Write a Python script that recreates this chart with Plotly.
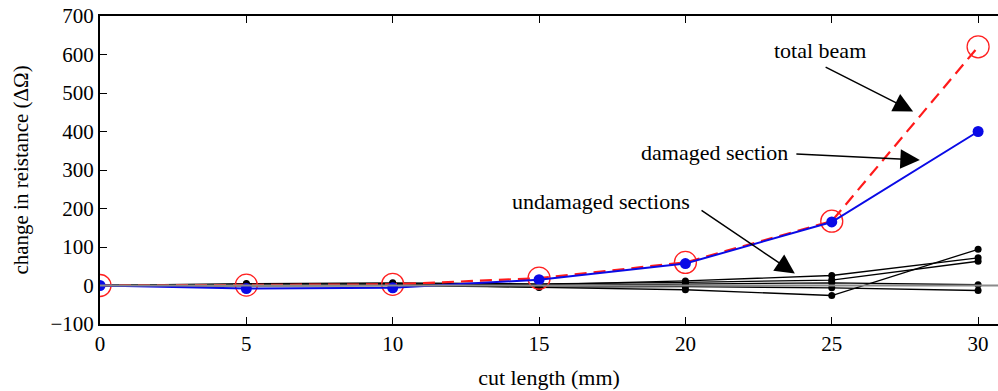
import plotly.graph_objects as go

cut_length = [0, 5, 10, 15, 20, 25, 30]
total_beam = [0, 1, 3, 19, 60, 167, 620]
damaged_section = [0, -8, -6, 15, 57, 165, 400]
undamaged_sections = [
    [0, 3, 5, 2, 12, 26, 72],
    [0, 5, 7, 4, 8, 14, 63],
    [0, 2, 3, -5, -11, -26, 94],
    [0, 1, 2, 0, 3, 7, 2],
    [0, -1, 0, -4, -3, -6, -13],
]
x_ticks = [0, 5, 10, 15, 20, 25, 30]
y_ticks = [-100, 0, 100, 200, 300, 400, 500, 600, 700]
y_tick_text = ["\u2212100", "0", "100", "200", "300", "400", "500", "600", "700"]

FONT = "Liberation Serif, Times New Roman, serif"

fig = go.Figure()

for ys in undamaged_sections:
    fig.add_trace(go.Scatter(
        x=cut_length, y=ys, mode="lines+markers",
        line=dict(color="black", width=1.3),
        marker=dict(color="black", size=7),
        showlegend=False, hoverinfo="skip"))

fig.add_hline(y=0, line=dict(color="#8a8a8a", width=2))

fig.add_trace(go.Scatter(
    x=cut_length, y=total_beam, mode="lines+markers",
    line=dict(color="#ff1a1a", width=2.2, dash="12px,7px"),
    marker=dict(symbol="circle-open", size=22, color="#ff2020", line=dict(width=1.3)),
    showlegend=False))

fig.add_trace(go.Scatter(
    x=cut_length, y=damaged_section, mode="lines+markers",
    line=dict(color="#0a0ae6", width=2),
    marker=dict(color="#0a0ae6", size=11),
    showlegend=False))

labels = [
    ("total beam", 24.6, 611, 24.74, 569, 27.78, 452),
    ("damaged section", 20.98, 345, 23.74, 342, 28.01, 326),
    ("undamaged sections", 17.12, 217, 20.5, 198, 23.74, 31),
]
for text, tx, ty, ax0, ay0, hx, hy in labels:
    fig.add_annotation(x=tx, y=ty, text=text, showarrow=False,
                       font=dict(family=FONT, size=22, color="black"))
    fig.add_annotation(x=hx, y=hy, ax=ax0, ay=ay0, axref="x", ayref="y",
                       text="", showarrow=True, arrowhead=2, arrowsize=2.6,
                       arrowwidth=1.5, arrowcolor="black", standoff=0)

fig.update_layout(
    width=998, height=391,
    margin=dict(l=100, r=0, t=16, b=67),
    plot_bgcolor="white", paper_bgcolor="white",
    font=dict(family=FONT, size=21, color="black"),
)
fig.update_xaxes(
    range=[0, 30.68], tickvals=x_ticks, ticktext=[str(v) for v in x_ticks],
    ticks="inside", ticklen=7, tickwidth=1, tickcolor="black",
    showline=True, linecolor="black", linewidth=2, mirror="ticks",
    showgrid=False, zeroline=False,
    title=dict(text="cut length (mm)", font=dict(size=22), standoff=14),
)
fig.update_yaxes(
    range=[-100, 700], tickvals=y_ticks, ticktext=y_tick_text,
    ticks="inside", ticklen=7, tickwidth=1, tickcolor="black",
    showline=True, linecolor="black", linewidth=2, mirror=False,
    showgrid=False, zeroline=False,
    title=dict(text="change in reistance (\u0394\u03a9)", font=dict(size=21), standoff=16),
)

fig.write_html("out.html")
